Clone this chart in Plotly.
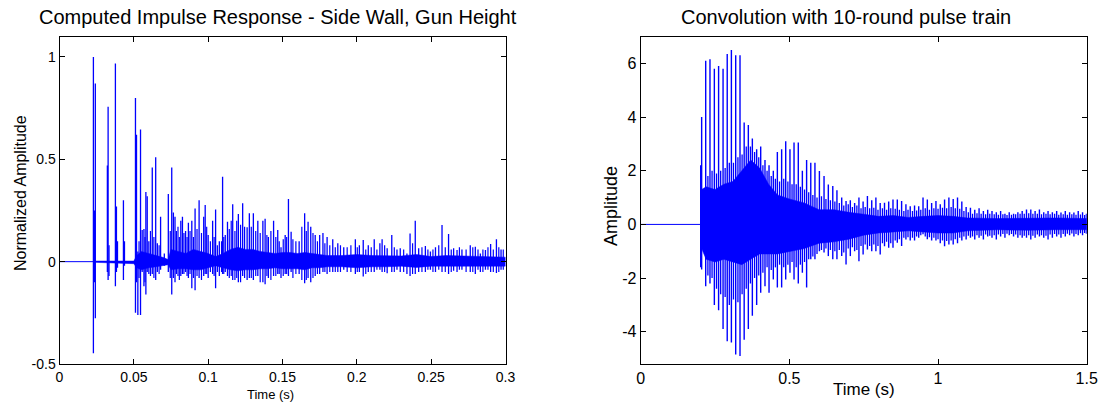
import plotly.graph_objects as go

W, H = 1103, 404

# ---------------- Left panel: computed impulse response ----------------
ir_flat_t = [0.0, 0.0226]
ir_flat_y = [0.0, 0.0]

ir_spike_t = [0.0228, 0.0235, 0.0241, 0.0322, 0.0327, 0.0333, 0.0376, 0.0383, 0.0390, 0.0430,
              0.0437, 0.0511, 0.0518, 0.0527, 0.0545, 0.0556, 0.0568, 0.0581, 0.0590, 0.0601,
              0.0624, 0.0647, 0.0658, 0.0680, 0.0705, 0.0732, 0.0755, 0.0766, 0.0777, 0.0786,
              0.0816, 0.0827, 0.0848, 0.0867, 0.0890, 0.0912, 0.0939, 0.0970, 0.0980, 0.1000,
              0.1030, 0.1050, 0.1075, 0.1097, 0.1115, 0.1130, 0.1165, 0.1203, 0.1232, 0.1262,
              0.1277, 0.1304, 0.1334, 0.1368, 0.1383, 0.1405, 0.1440, 0.1468, 0.1490, 0.1518,
              0.1540, 0.1558, 0.1612, 0.1649, 0.1672, 0.1690, 0.1720, 0.1750, 0.1772, 0.1800,
              0.1838, 0.1872, 0.1912, 0.1990, 0.2017, 0.2043, 0.2077, 0.2117, 0.2155, 0.2170,
              0.2204, 0.2235, 0.2270, 0.2292, 0.2337, 0.2358, 0.2393, 0.2416, 0.2461, 0.2495,
              0.2529, 0.2573, 0.2617, 0.2651, 0.2674, 0.2707, 0.2763, 0.2797, 0.2831, 0.2865,
              0.2900, 0.2939, 0.2970]
ir_spike_hi = [1.000, 0.250, 0.870, 0.470, 0.757, 0.080, 0.968, 0.270, 0.100, 0.300,
               0.100, 0.800, 0.620, 0.050, 0.646, 0.155, 0.160, 0.340, 0.320, 0.100,
               0.460, 0.510, 0.090, 0.220, 0.040, 0.330, 0.460, 0.240, 0.220, 0.150,
               0.200, 0.220, 0.150, 0.190, 0.200, 0.260, 0.300, 0.220, 0.277, 0.130,
               0.200, 0.255, 0.100, 0.415, 0.130, 0.195, 0.280, 0.233, 0.285, 0.168,
               0.236, 0.236, 0.200, 0.200, 0.210, 0.120, 0.200, 0.155, 0.070, 0.130,
               0.306, 0.146, 0.100, 0.236, 0.195, 0.170, 0.130, 0.130, 0.140, 0.120,
               0.110, 0.090, 0.070, 0.109, 0.080, 0.106, 0.080, 0.109, 0.090, 0.109,
               0.065, 0.130, 0.060, 0.065, 0.040, 0.138, 0.200, 0.065, 0.077, 0.050,
               0.070, 0.179, 0.135, 0.065, 0.057, 0.060, 0.080, 0.073, 0.040, 0.057,
               0.086, 0.109, 0.060]
ir_spike_lo = [-0.447, -0.100, -0.277, -0.050, -0.090, -0.070, -0.120, -0.050, -0.030, -0.090,
               -0.020, -0.250, -0.100, -0.260, -0.260, -0.050, -0.120, -0.160, -0.050, -0.060,
               -0.060, -0.090, -0.050, -0.040, -0.020, -0.050, -0.160, -0.080, -0.100, -0.060,
               -0.070, -0.060, -0.050, -0.080, -0.130, -0.140, -0.080, -0.070, -0.060, -0.080,
               -0.060, -0.130, -0.070, -0.060, -0.050, -0.070, -0.090, -0.100, -0.070, -0.090,
               -0.080, -0.090, -0.070, -0.100, -0.110, -0.080, -0.070, -0.060, -0.080, -0.060,
               -0.070, -0.050, -0.060, -0.105, -0.080, -0.100, -0.070, -0.060, -0.050, -0.060,
               -0.050, -0.050, -0.040, -0.060, -0.050, -0.073, -0.050, -0.050, -0.040, -0.050,
               -0.057, -0.050, -0.040, -0.050, -0.060, -0.070, -0.060, -0.050, -0.050, -0.040,
               -0.050, -0.050, -0.060, -0.045, -0.050, -0.040, -0.050, -0.060, -0.050, -0.040,
               -0.050, -0.055, -0.040]

# smaller reflections filling the diffuse tail
ir_minor_t = [0.0535, 0.0575, 0.0612, 0.0635, 0.0670, 0.0745, 0.0797, 0.0806, 0.0837, 0.0858,
              0.0878, 0.0901, 0.0925, 0.0955, 0.0990, 0.1015, 0.1040, 0.1062, 0.1090, 0.1105,
              0.1142, 0.1155, 0.1180, 0.1192, 0.1218, 0.1245, 0.1290, 0.1320, 0.1350, 0.1395,
              0.1422, 0.1455, 0.1478, 0.1505, 0.1528, 0.1570, 0.1590, 0.1630, 0.1660, 0.1705,
              0.1735, 0.1785, 0.1818, 0.1855, 0.1890, 0.1935, 0.1960, 0.2003, 0.2060, 0.2097,
              0.2135, 0.2187, 0.2252, 0.2315, 0.2375, 0.2438, 0.2478, 0.2512, 0.2551, 0.2595,
              0.2635, 0.2690, 0.2735, 0.2780, 0.2815, 0.2848, 0.2882, 0.2918, 0.2955, 0.2985]
ir_minor_hi = [0.10, 0.12, 0.15, 0.12, 0.08, 0.15, 0.17, 0.12, 0.14, 0.12,
               0.15, 0.12, 0.16, 0.14, 0.17, 0.10, 0.12, 0.08, 0.10, 0.12,
               0.16, 0.20, 0.15, 0.20, 0.18, 0.17, 0.17, 0.15, 0.14, 0.13,
               0.15, 0.12, 0.10, 0.11, 0.12, 0.11, 0.10, 0.17, 0.15, 0.14,
               0.10, 0.09, 0.08, 0.07, 0.08, 0.07, 0.08, 0.07, 0.06, 0.07,
               0.06, 0.08, 0.07, 0.06, 0.09, 0.07, 0.06, 0.06, 0.08, 0.07,
               0.06, 0.07, 0.06, 0.07, 0.06, 0.06, 0.07, 0.06, 0.07, 0.06]
ir_minor_lo = [-0.08, -0.10, -0.07, -0.08, -0.06, -0.08, -0.07, -0.09, -0.06, -0.07,
               -0.06, -0.08, -0.07, -0.09, -0.06, -0.05, -0.07, -0.05, -0.05, -0.06,
               -0.08, -0.07, -0.09, -0.08, -0.10, -0.08, -0.08, -0.07, -0.10, -0.07,
               -0.09, -0.07, -0.06, -0.07, -0.06, -0.08, -0.06, -0.09, -0.09, -0.08,
               -0.06, -0.05, -0.05, -0.05, -0.05, -0.05, -0.05, -0.05, -0.06, -0.05,
               -0.04, -0.05, -0.05, -0.05, -0.06, -0.05, -0.04, -0.05, -0.04, -0.05,
               -0.05, -0.04, -0.05, -0.05, -0.04, -0.05, -0.04, -0.05, -0.05, -0.04]

ir_core_t = [0.0226, 0.0500, 0.0520, 0.0550, 0.0600, 0.0650, 0.0700, 0.0730, 0.0750, 0.0800,
             0.0850, 0.0900, 0.0950, 0.1000, 0.1050, 0.1100, 0.1150, 0.1200, 0.1250, 0.1300,
             0.1350, 0.1400, 0.1450, 0.1500, 0.1550, 0.1600, 0.1650, 0.1700, 0.1750, 0.1800,
             0.1900, 0.2000, 0.2100, 0.2200, 0.2300, 0.2400, 0.2500, 0.2600, 0.2700, 0.2800,
             0.2900, 0.3000]
ir_core_hi = [0.003, 0.003, 0.030, 0.050, 0.040, 0.030, 0.020, 0.010, 0.060, 0.050,
              0.040, 0.060, 0.050, 0.040, 0.025, 0.040, 0.060, 0.070, 0.060, 0.060,
              0.050, 0.045, 0.040, 0.045, 0.045, 0.040, 0.045, 0.040, 0.035, 0.030,
              0.030, 0.035, 0.030, 0.030, 0.028, 0.035, 0.025, 0.030, 0.028, 0.025,
              0.025, 0.022]
ir_core_lo = [-0.003, -0.010, -0.030, -0.040, -0.030, -0.025, -0.020, -0.015, -0.040, -0.035,
              -0.035, -0.040, -0.040, -0.030, -0.020, -0.030, -0.040, -0.045, -0.040, -0.040,
              -0.035, -0.035, -0.030, -0.035, -0.035, -0.035, -0.040, -0.030, -0.030, -0.025,
              -0.025, -0.030, -0.025, -0.025, -0.022, -0.028, -0.022, -0.025, -0.025, -0.022,
              -0.022, -0.022]

# ---------------- Right panel: convolution with pulse train ----------------
cv_flat_t = [0.0, 0.2018]
cv_flat_y = [0.0, 0.0]

cv_spike_t = [0.2018, 0.2050, 0.2186, 0.2330, 0.2477, 0.2620, 0.2770, 0.2910, 0.3050, 0.3195,
              0.3340, 0.3480, 0.3620, 0.3755, 0.3900, 0.4036, 0.4180, 0.4316, 0.4460, 0.4596,
              0.4740, 0.4877, 0.5020, 0.5157, 0.5300, 0.5437, 0.5580, 0.5720, 0.5860, 0.6010,
              0.6166, 0.6310, 0.6460, 0.6600, 0.6760, 0.6906, 0.7050, 0.7195, 0.7340, 0.7480,
              0.7625, 0.7770, 0.7910, 0.8055, 0.8200, 0.8340, 0.8485, 0.8630, 0.8775, 0.8920,
              0.9065, 0.9210, 0.9350, 0.9495, 0.9640, 0.9785, 0.9930, 1.0075, 1.0220, 1.0365,
              1.0510, 1.0655, 1.0800, 1.0945, 1.1090, 1.1235, 1.1380, 1.1525, 1.1670, 1.1815,
              1.1960, 1.2105, 1.2250, 1.2395, 1.2540, 1.2685, 1.2830, 1.2975, 1.3120, 1.3265,
              1.3410, 1.3555, 1.3700, 1.3845, 1.3990, 1.4135, 1.4280, 1.4425, 1.4570, 1.4715,
              1.4860, 1.4990]
cv_spike_hi = [2.20, 4.00, 6.10, 6.15, 5.80, 5.90, 5.80, 6.35, 6.50, 6.30,
               6.30, 3.80, 3.70, 3.20, 2.80, 2.90, 2.40, 2.20, 2.00, 2.70,
               2.80, 3.10, 2.80, 3.05, 3.05, 2.00, 2.40, 2.30, 2.30, 1.99,
               1.80, 1.49, 1.43, 1.27, 1.00, 0.87, 0.90, 0.80, 1.00, 0.85,
               1.06, 0.90, 1.00, 0.80, 0.81, 0.85, 0.93, 0.93, 0.87, 0.75,
               0.68, 0.70, 0.68, 1.00, 0.93, 0.80, 0.87, 0.75, 0.93, 1.00,
               0.95, 1.00, 0.85, 0.65, 0.62, 0.55, 0.60, 0.50, 0.55, 0.50,
               0.45, 0.50, 0.40, 0.45, 0.40, 0.45, 0.50, 0.56, 0.56, 0.50,
               0.56, 0.45, 0.50, 0.45, 0.50, 0.44, 0.50, 0.45, 0.44, 0.50,
               0.45, 0.40]
cv_spike_lo = [-1.60, -1.68, -2.30, -2.20, -3.00, -3.20, -3.90, -4.35, -4.40, -4.85,
               -4.90, -4.30, -3.90, -3.40, -3.00, -2.55, -2.30, -2.55, -2.05, -2.35,
               -2.35, -2.05, -1.80, -2.05, -2.20, -1.80, -2.35, -1.30, -1.30, -1.00,
               -1.05, -1.18, -1.30, -1.30, -1.18, -1.49, -1.18, -1.00, -1.37, -1.12,
               -0.93, -1.00, -1.00, -1.12, -0.81, -0.87, -0.87, -0.68, -0.80, -0.56,
               -0.60, -0.60, -0.50, -0.37, -0.55, -0.60, -0.60, -0.70, -0.81, -0.75,
               -0.75, -0.70, -0.60, -0.56, -0.50, -0.56, -0.50, -0.56, -0.45, -0.50,
               -0.56, -0.45, -0.50, -0.40, -0.45, -0.50, -0.50, -0.50, -0.56, -0.50,
               -0.45, -0.50, -0.56, -0.50, -0.45, -0.50, -0.45, -0.40, -0.45, -0.40,
               -0.40, -0.35]

# in-between lines of the dense part
cv_minor_t = [0.2260, 0.2400, 0.2550, 0.2690, 0.2840, 0.2980, 0.3120, 0.3270, 0.3410, 0.3550,
              0.3690, 0.3830, 0.3970, 0.4110, 0.4250, 0.4390, 0.4530, 0.4670, 0.4810, 0.4950,
              0.5090, 0.5230, 0.5370, 0.5510, 0.5650, 0.5790, 0.5930, 0.6080, 0.6230, 0.6380,
              0.6530, 0.6680, 0.6830, 0.6980, 0.7120, 0.7270, 0.7410, 0.7550, 0.7700, 0.7840,
              0.7980, 0.8130, 0.8270, 0.8410, 0.8560, 0.8700, 0.8850, 0.8990, 0.9140, 0.9280,
              0.9420, 0.9570, 0.9710, 0.9860, 1.0000, 1.0150, 1.0290, 1.0440, 1.0580, 1.0730,
              1.0870, 1.1020, 1.1160, 1.1310, 1.1450, 1.1600, 1.1740, 1.1890, 1.2030, 1.2180,
              1.2320, 1.2470, 1.2610, 1.2760, 1.2900, 1.3050, 1.3190, 1.3340, 1.3480, 1.3630,
              1.3770, 1.3920, 1.4060, 1.4210, 1.4350, 1.4500, 1.4640, 1.4790, 1.4930]
cv_minor_hi = [1.80, 2.00, 1.90, 2.00, 2.10, 2.30, 2.30, 2.50, 2.60, 2.90,
               2.90, 2.70, 2.50, 2.20, 2.00, 1.80, 1.70, 1.60, 1.70, 1.60,
               1.50, 1.50, 1.40, 1.30, 1.20, 1.10, 1.00, 1.05, 0.95, 0.90,
               0.85, 0.80, 0.70, 0.75, 0.65, 0.70, 0.60, 0.65, 0.60, 0.62,
               0.55, 0.60, 0.55, 0.60, 0.58, 0.55, 0.50, 0.55, 0.50, 0.52,
               0.55, 0.60, 0.55, 0.60, 0.58, 0.62, 0.60, 0.65, 0.60, 0.58,
               0.50, 0.45, 0.40, 0.42, 0.40, 0.38, 0.40, 0.38, 0.36, 0.38,
               0.35, 0.36, 0.38, 0.40, 0.40, 0.42, 0.40, 0.40, 0.38, 0.40,
               0.38, 0.40, 0.36, 0.38, 0.36, 0.38, 0.36, 0.37, 0.35]
cv_minor_lo = [-1.90, -2.00, -2.40, -2.60, -2.70, -3.00, -2.80, -2.90, -2.60, -2.40,
               -2.20, -2.00, -1.90, -1.80, -1.60, -1.70, -1.60, -1.50, -1.60, -1.50,
               -1.40, -1.60, -1.50, -1.40, -1.30, -1.20, -1.10, -0.95, -0.90, -0.95,
               -1.00, -0.95, -1.05, -0.90, -0.85, -0.95, -0.80, -0.75, -0.80, -0.75,
               -0.80, -0.70, -0.65, -0.70, -0.60, -0.55, -0.50, -0.48, -0.50, -0.45,
               -0.40, -0.45, -0.48, -0.50, -0.55, -0.60, -0.62, -0.60, -0.55, -0.50,
               -0.45, -0.42, -0.45, -0.40, -0.42, -0.38, -0.42, -0.40, -0.38, -0.36,
               -0.35, -0.36, -0.38, -0.40, -0.42, -0.40, -0.42, -0.38, -0.40, -0.42,
               -0.38, -0.36, -0.38, -0.36, -0.35, -0.34, -0.36, -0.33, -0.32]

cv_core_t = [0.2018, 0.2050, 0.2200, 0.2500, 0.2800, 0.3100, 0.3400, 0.3700, 0.4000, 0.4300,
             0.4600, 0.5000, 0.5500, 0.6000, 0.6500, 0.7000, 0.7500, 0.8000, 0.8500, 0.9000,
             0.9500, 1.0000, 1.0500, 1.1000, 1.2000, 1.3000, 1.4000, 1.5000]
cv_core_hi = [0.00, 1.30, 1.40, 1.30, 1.50, 1.60, 2.00, 2.40, 2.10, 1.50,
              1.10, 0.95, 0.80, 0.55, 0.55, 0.45, 0.38, 0.30, 0.33, 0.26,
              0.30, 0.33, 0.30, 0.24, 0.22, 0.23, 0.24, 0.22]
cv_core_lo = [0.00, -0.90, -1.30, -1.40, -1.30, -1.40, -1.50, -1.30, -1.10, -1.10,
              -1.10, -1.00, -0.90, -0.70, -0.65, -0.55, -0.40, -0.32, -0.28, -0.24,
              -0.28, -0.32, -0.32, -0.24, -0.20, -0.22, -0.20, -0.20]

BLUE = "rgb(0,0,255)"
FONT = "Liberation Sans, Arial, sans-serif"


def spike_xy(t, hi, lo):
    xs, ys = [], []
    for ti, h, l in zip(t, hi, lo):
        xs += [ti, ti, None]
        ys += [l, h, None]
    return xs, ys


def add_panel(fig, xa, ya, flat_t, flat_y, core_t, core_hi, core_lo, spike_sets):
    fig.add_trace(go.Scatter(x=core_t + core_t[::-1], y=core_hi + core_lo[::-1],
                             fill="toself", fillcolor=BLUE, mode="lines",
                             line=dict(color=BLUE, width=0.5), xaxis=xa, yaxis=ya,
                             hoverinfo="skip", showlegend=False))
    fig.add_trace(go.Scatter(x=flat_t, y=flat_y, mode="lines",
                             line=dict(color=BLUE, width=1), xaxis=xa, yaxis=ya,
                             showlegend=False))
    for (sp_t, sp_hi, sp_lo, wid) in spike_sets:
        sx, sy = spike_xy(sp_t, sp_hi, sp_lo)
        fig.add_trace(go.Scatter(x=sx, y=sy, mode="lines", connectgaps=False,
                                 line=dict(color=BLUE, width=wid), xaxis=xa, yaxis=ya,
                                 showlegend=False))


fig = go.Figure()
add_panel(fig, "x", "y", ir_flat_t, ir_flat_y, ir_core_t, ir_core_hi, ir_core_lo,
          [(ir_minor_t, ir_minor_hi, ir_minor_lo, 1.2),
           (ir_spike_t, ir_spike_hi, ir_spike_lo, 1.3)])
add_panel(fig, "x2", "y2", cv_flat_t, cv_flat_y, cv_core_t, cv_core_hi, cv_core_lo,
          [(cv_minor_t, cv_minor_hi, cv_minor_lo, 1.3),
           (cv_spike_t, cv_spike_hi, cv_spike_lo, 1.4)])


def px(x):
    return x / W


def py(y):
    return 1 - y / H


y_dom = [py(364), py(36.5)]
axis_common = dict(showline=True, linecolor="black", linewidth=1, mirror="ticks",
                   ticks="inside", ticklen=5, tickcolor="black", showgrid=False,
                   zeroline=False, automargin=False)

fig.update_layout(
    width=W, height=H, margin=dict(l=0, r=0, t=0, b=0, autoexpand=False),
    paper_bgcolor="white", plot_bgcolor="white",
    font=dict(family=FONT, color="black"),
    xaxis=dict(domain=[px(59.5), px(505.5)], range=[0, 0.3],
               tickvals=[0, 0.05, 0.1, 0.15, 0.2, 0.25, 0.3],
               ticktext=["0", "0.05", "0.1", "0.15", "0.2", "0.25", "0.3"],
               tickfont=dict(size=14), anchor="y", **axis_common),
    yaxis=dict(domain=y_dom, range=[-0.5, 1.1], tickvals=[-0.5, 0, 0.5, 1],
               ticktext=["-0.5", "0", "0.5", "1"], tickfont=dict(size=14),
               anchor="x", **axis_common),
    xaxis2=dict(domain=[px(640.7), px(1086.7)], range=[0, 1.5],
                tickvals=[0, 0.5, 1, 1.5], ticktext=["0", "0.5", "1", "1.5"],
                tickfont=dict(size=16), anchor="y2", **axis_common),
    yaxis2=dict(domain=y_dom, range=[-5.2, 7.0], tickvals=[-4, -2, 0, 2, 4, 6],
                ticktext=["-4", "-2", "0", "2", "4", "6"], tickfont=dict(size=16),
                anchor="x2", **axis_common),
)

annots = [
    dict(text="Computed Impulse Response - Side Wall, Gun Height", x=px(277.5), y=py(17),
         size=20, angle=0),
    dict(text="Convolution with 10-round pulse train", x=px(845.5), y=py(17),
         size=20, angle=0),
    dict(text="Time (s)", x=px(270), y=py(394), size=13, angle=0),
    dict(text="Time (s)", x=px(863.5), y=py(389), size=17, angle=0),
    dict(text="Normalized Amplitude", x=px(20), y=py(193), size=16, angle=-90),
    dict(text="Amplitude", x=px(611), y=py(206), size=18, angle=-90),
]
for a in annots:
    fig.add_annotation(text=a["text"], x=a["x"], y=a["y"], xref="paper", yref="paper",
                       xanchor="center", yanchor="middle", showarrow=False,
                       textangle=a["angle"], font=dict(size=a["size"], family=FONT,
                                                       color="black"))

fig.write_html("out.html", config={"displayModeBar": False},
               post_script="document.body.style.margin='0';document.body.style.overflow='hidden';")
